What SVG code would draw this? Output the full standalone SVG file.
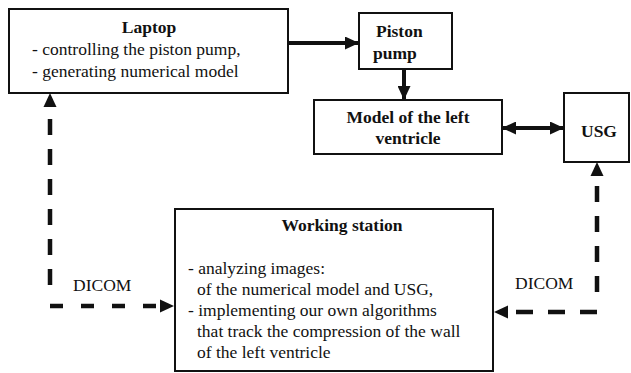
<svg xmlns="http://www.w3.org/2000/svg" width="631" height="373" viewBox="0 0 631 373">
<defs>
<style>
.box{fill:#fff;stroke:#111;stroke-width:2}
.t{font-family:"Liberation Serif","Times New Roman",serif;font-size:17.5px;fill:#111}
.b{font-weight:bold}
.c{text-anchor:middle}
.solid{stroke:#111;stroke-width:4;fill:none}
.dash{stroke:#111;stroke-width:4.5;fill:none}
</style>
<marker id="ah" viewBox="0 0 14 13" refX="14" refY="6.5" markerWidth="14" markerHeight="13" markerUnits="userSpaceOnUse" orient="auto-start-reverse">
<path d="M0,0 L14,6.5 L0,13 Z" fill="#111"/>
</marker>
</defs>
<rect width="631" height="373" fill="#fff"/>
<g id="laptop">
<rect class="box" x="9" y="9" width="279" height="84"/>
<text class="t b c" x="149" y="33">Laptop</text>
<text class="t" x="32" y="55">- controlling the piston pump,</text>
<text class="t" x="32" y="77">- generating numerical model</text>
</g>
<g id="piston">
<rect class="box" x="359" y="13" width="93" height="56"/>
<text class="t b" x="376" y="37">Piston</text>
<text class="t b" x="373" y="59">pump</text>
</g>
<g id="model">
<rect class="box" x="314" y="100" width="188" height="54"/>
<text class="t b c" x="408" y="123">Model of the left</text>
<text class="t b c" x="408" y="144">ventricle</text>
</g>
<g id="usg">
<rect class="box" x="564" y="93" width="65" height="69"/>
<text class="t b c" x="599" y="137">USG</text>
</g>
<g id="station">
<rect class="box" x="175" y="209" width="318" height="162"/>
<text class="t b c" x="342" y="231">Working station</text>
<text class="t" x="188" y="274">- analyzing images:</text>
<text class="t" x="197" y="295">of the numerical model and USG,</text>
<text class="t" x="188" y="316">- implementing our own algorithms</text>
<text class="t" x="197" y="337">that track the compression of the wall</text>
<text class="t" x="197" y="358">of the left ventricle</text>
</g>
<g id="connectors">
<line class="solid" x1="288" y1="43" x2="359" y2="43" marker-end="url(#ah)"/>
<line class="solid" x1="404" y1="69" x2="404" y2="100" marker-end="url(#ah)"/>
<line class="solid" x1="502" y1="128" x2="564" y2="128" marker-start="url(#ah)" marker-end="url(#ah)"/>
<line class="dash" x1="50" y1="285" x2="50" y2="107" stroke-dasharray="16 14"/>
<path d="M50,93 L56.5,107 L43.5,107 Z" fill="#111"/>
<line class="dash" x1="50" y1="306" x2="160" y2="306" stroke-dasharray="13 18"/>
<path d="M174,306 L160,299.5 L160,312.5 Z" fill="#111"/>
<line class="dash" x1="597" y1="292" x2="597" y2="176" stroke-dasharray="16 14"/>
<path d="M597,162 L603.5,176 L590.5,176 Z" fill="#111"/>
<line class="dash" x1="597" y1="312" x2="508" y2="312" stroke-dasharray="17 15"/>
<path d="M494,312 L508,305.5 L508,318.5 Z" fill="#111"/>
<text class="t" x="73" y="291">DICOM</text>
<text class="t" x="515" y="289">DICOM</text>
</g>
</svg>
